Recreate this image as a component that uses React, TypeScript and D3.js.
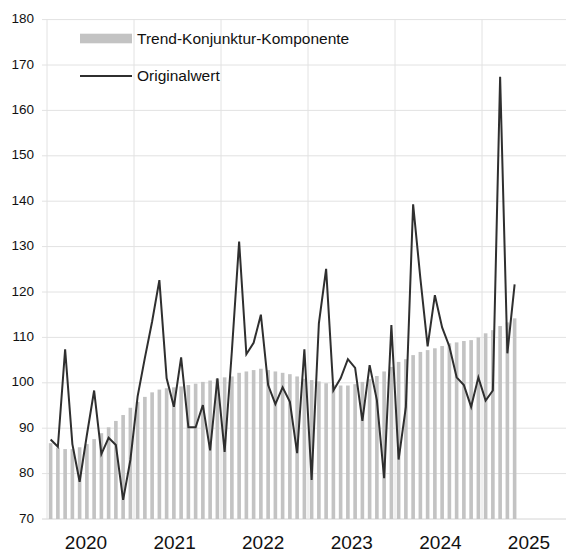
import React from 'react';
import * as d3 from 'd3';

// Jahre auf der x-Achse (monatliche Werte ab Januar 2020)
const years = ['2020', '2021', '2022', '2023', '2024', '2025'];
const yTicks = [70, 80, 90, 100, 110, 120, 130, 140, 150, 160, 170, 180];

// Trend-Konjunktur-Komponente (Balken)
const trend2020 = [86.7, 85.7, 85.4, 85.4, 85.8, 86.5, 87.6, 88.9, 90.2, 91.6, 92.9, 94.5];
const trend2021 = [95.8, 96.9, 97.9, 98.5, 98.8, 99.0, 99.2, 99.5, 99.8, 100.2, 100.5, 100.9];
const trend2022 = [101.2, 101.4, 102.2, 102.5, 102.8, 103.1, 102.8, 102.5, 102.2, 101.9, 101.4, 100.9];
const trend2023 = [100.6, 100.3, 99.9, 99.6, 99.4, 99.4, 99.7, 100.2, 100.8, 101.5, 102.5, 103.5];
const trend2024 = [104.6, 105.2, 106.1, 106.8, 107.2, 107.6, 108.1, 108.7, 108.9, 109.2, 109.4, 110.0];
const trend2025 = [110.9, 111.6, 112.5, 113.3, 114.2];

// Originalwert (Linie)
const orig2020 = [87.5, 85.9, 107.4, 86.5, 78.2, 88.5, 98.3, 84.3, 87.9, 86.3, 74.2, 83.0];
const orig2021 = [97.0, 105.5, 113.5, 122.6, 101.0, 94.7, 105.6, 90.2, 90.2, 95.1, 85.1, 101.0];
const orig2022 = [84.8, 107.0, 131.1, 106.3, 108.8, 115.0, 99.5, 95.3, 99.0, 95.8, 84.5, 107.4];
const orig2023 = [78.6, 113.1, 125.1, 98.3, 101.0, 105.2, 103.3, 91.6, 103.9, 96.2, 79.0, 112.7];
const orig2024 = [83.1, 94.7, 139.3, 123.0, 108.0, 119.3, 112.2, 108.0, 101.2, 99.5, 94.7, 101.2];
const orig2025 = [96.1, 98.3, 167.4, 106.5, 121.7];

const trend = [...trend2020, ...trend2021, ...trend2022, ...trend2023, ...trend2024, ...trend2025];
const original = [...orig2020, ...orig2021, ...orig2022, ...orig2023, ...orig2024, ...orig2025];

const colors = {
  grid: '#e2e2e2',
  axis: '#d4d4d4',
  bar: '#c3c3c3',
  line: '#2f2f2f',
  text: '#111111',
};

const font = '"Liberation Sans", Arial, sans-serif';

const App = () => {
  const width = 566;
  const height = 553;
  const margin = { top: 19.6, left: 47, bottom: 519 };
  const plotRight = 569; // letzte Jahresspalte reicht über den Rand hinaus

  const months = d3.range(years.length * 12);

  const x = d3
    .scaleBand<number>()
    .domain(months)
    .range([margin.left, plotRight])
    .paddingInner(0.5)
    .paddingOuter(0.25);

  const y = d3.scaleLinear().domain([70, 180]).range([margin.bottom, margin.top]);

  // Jahresbeschriftungen sitzen leicht versetzt zu den Jahresspalten
  const yearLabel = d3.scaleBand<string>().domain(years).range([41.7, 573.3]);

  const step = x.step();
  const yearEdges = d3.range(years.length).map((k) => (x(k * 12) ?? 0) - (step - x.bandwidth()) / 2);

  const cx = (i: number) => (x(i) ?? 0) + x.bandwidth() / 2;

  const line = d3
    .line<number>()
    .x((_, i) => cx(i))
    .y((d) => y(d));

  return (
    <svg
      width={width}
      height={height}
      style={{ position: 'absolute', left: 0, top: 0, background: '#fff' }}
      fontFamily={font}
    >
      {/* horizontale Gitterlinien */}
      {yTicks.map((t) => (
        <line
          key={`h${t}`}
          x1={margin.left - 5}
          x2={width}
          y1={y(t)}
          y2={y(t)}
          stroke={t === 70 ? colors.axis : colors.grid}
          strokeWidth={1}
        />
      ))}

      {/* vertikale Jahreslinien */}
      {yearEdges.map((xe, k) => (
        <line
          key={`v${k}`}
          x1={xe}
          x2={xe}
          y1={y(180)}
          y2={y(70)}
          stroke={colors.grid}
          strokeWidth={1}
        />
      ))}

      {/* Balken */}
      {trend.map((v, i) => (
        <rect
          key={`b${i}`}
          x={x(i)}
          y={y(v)}
          width={x.bandwidth()}
          height={y(70) - y(v)}
          fill={colors.bar}
        />
      ))}

      {/* Linie */}
      <path d={line(original) ?? ''} fill="none" stroke={colors.line} strokeWidth={2} strokeLinejoin="miter" />

      {/* y-Achse */}
      {yTicks.map((t) => (
        <text
          key={`yt${t}`}
          x={34}
          y={y(t)}
          textAnchor="end"
          dominantBaseline="middle"
          fontSize={13.5}
          fill={colors.text}
        >
          {t}
        </text>
      ))}

      {/* x-Achse */}
      {years.map((yr) => (
        <text
          key={`x${yr}`}
          x={(yearLabel(yr) ?? 0) + yearLabel.bandwidth() / 2}
          y={549}
          textAnchor="middle"
          fontSize={19}
          fill={colors.text}
        >
          {yr}
        </text>
      ))}

      {/* Legende */}
      <rect x={80} y={33.7} width={52} height={9.6} fill={colors.bar} />
      <text x={137} y={44} fontSize={15.5} fill={colors.text}>
        Trend-Konjunktur-Komponente
      </text>
      <line x1={80} x2={132} y1={76} y2={76} stroke={colors.line} strokeWidth={2} />
      <text x={137} y={81} fontSize={15.5} fill={colors.text}>
        Originalwert
      </text>
    </svg>
  );
};

export default App;
